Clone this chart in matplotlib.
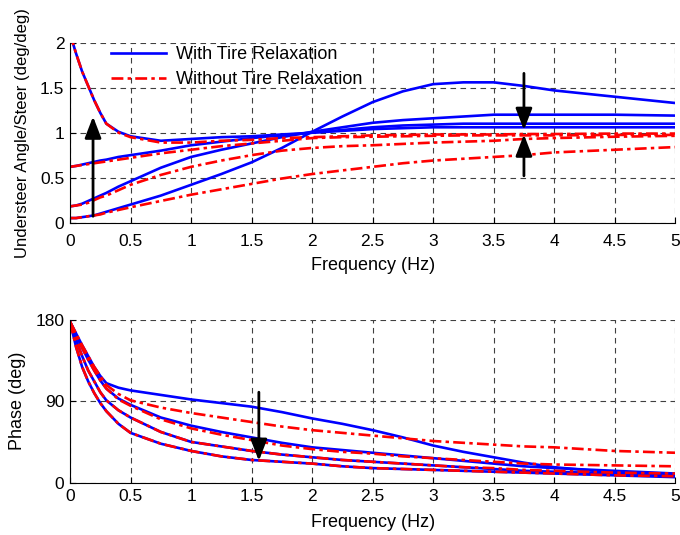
import numpy as np
import matplotlib
matplotlib.use("Agg")
import matplotlib.pyplot as plt

plt.rcParams['font.family'] = ['Liberation Sans', 'DejaVu Sans']
plt.rcParams['font.size'] = 13

# frequency points (Hz)
freq = [0, 0.05, 0.1, 0.15, 0.2, 0.25, 0.3, 0.4, 0.5, 0.75, 1.0, 1.25, 1.5, 1.75,
        2.0, 2.25, 2.5, 2.75, 3.0, 3.25, 3.5, 3.75, 4.0, 4.5, 5.0]

# understeer angle / steer, with tire relaxation
mag_with = [
    [2.1, 1.88, 1.68, 1.52, 1.36, 1.22, 1.10, 1.01, 0.96, 0.91, 0.93, 0.95, 0.96, 0.98,
     1.0, 1.02, 1.04, 1.05, 1.06, 1.06, 1.06, 1.06, 1.06, 1.06, 1.06],
    [0.62, 0.63, 0.645, 0.66, 0.675, 0.69, 0.70, 0.73, 0.75, 0.80, 0.86, 0.90, 0.94, 0.97,
     1.0, 1.03, 1.06, 1.08, 1.09, 1.10, 1.10, 1.10, 1.10, 1.10, 1.10],
    [0.18, 0.19, 0.21, 0.24, 0.27, 0.30, 0.33, 0.40, 0.46, 0.61, 0.73, 0.81, 0.88, 0.95,
     1.01, 1.06, 1.11, 1.14, 1.16, 1.18, 1.20, 1.20, 1.20, 1.20, 1.19],
    [0.05, 0.05, 0.06, 0.07, 0.08, 0.10, 0.12, 0.16, 0.20, 0.30, 0.42, 0.54, 0.67, 0.83,
     1.01, 1.18, 1.34, 1.46, 1.54, 1.56, 1.56, 1.52, 1.47, 1.40, 1.33],
]
# understeer angle / steer, without tire relaxation
mag_without = [
    [2.1, 1.88, 1.68, 1.52, 1.36, 1.22, 1.10, 1.00, 0.95, 0.89, 0.89, 0.91, 0.92, 0.94,
     0.95, 0.96, 0.97, 0.975, 0.98, 0.98, 0.98, 0.985, 0.985, 0.99, 0.99],
    [0.62, 0.63, 0.64, 0.65, 0.66, 0.67, 0.68, 0.70, 0.72, 0.77, 0.81, 0.85, 0.88, 0.91,
     0.94, 0.95, 0.955, 0.96, 0.965, 0.97, 0.97, 0.97, 0.97, 0.975, 0.975],
    [0.18, 0.19, 0.20, 0.22, 0.25, 0.28, 0.30, 0.36, 0.42, 0.53, 0.62, 0.69, 0.75, 0.80,
     0.83, 0.85, 0.86, 0.875, 0.89, 0.90, 0.91, 0.93, 0.94, 0.955, 0.965],
    [0.05, 0.05, 0.06, 0.07, 0.08, 0.09, 0.11, 0.14, 0.17, 0.24, 0.31, 0.37, 0.43, 0.49,
     0.54, 0.58, 0.62, 0.66, 0.69, 0.71, 0.73, 0.75, 0.78, 0.81, 0.84],
]

# phase (deg)
phase_with = [
    [178, 165, 152, 140, 128, 118, 110, 105, 102, 97, 92, 88, 84, 78,
     71, 65, 58, 50, 41, 34, 28, 22, 17, 11, 7],
    [178, 163, 149, 136, 124, 113, 104, 93, 86, 72, 63, 56, 50, 44,
     39, 36, 33, 30, 27, 24, 21, 18, 16, 13, 10],
    [178, 158, 140, 124, 112, 100, 91, 80, 72, 56, 45, 40, 35, 31,
     28, 25, 23, 21, 19, 17, 15, 13, 12, 10, 8],
    [178, 150, 128, 112, 99, 88, 79, 65, 55, 43, 35, 29, 25, 23,
     21, 18, 16, 15, 14, 13, 12, 11, 10, 8, 6],
]
phase_without = [
    [178, 165, 152, 140, 128, 118, 108, 98, 91, 83, 77, 72, 67, 62,
     58, 55, 52, 49, 46, 44, 42, 40, 39, 35, 33],
    [178, 163, 149, 136, 124, 113, 104, 92, 85, 70, 60, 53, 47, 41,
     37, 34, 32, 29, 27, 25, 23, 21, 20, 19, 18],
    [178, 158, 140, 124, 112, 100, 91, 80, 72, 56, 45, 40, 35, 31,
     28, 25, 23, 21, 19, 17, 16, 14, 13, 11, 10],
    [178, 150, 128, 112, 99, 88, 79, 65, 55, 43, 35, 29, 25, 23,
     21, 18, 16, 15, 14, 13, 12, 11, 10, 8, 7],
]

blue = '#0000FF'
red = '#FF0000'
dashdot = (0, (4.5, 1.6, 1.3, 1.6))
lw = 1.9

fig = plt.figure(figsize=(6.8, 5.35), dpi=100)
ax1 = fig.add_axes([0.103, 0.584, 0.890, 0.336])
ax2 = fig.add_axes([0.103, 0.098, 0.890, 0.304])

for ax in (ax1, ax2):
    ax.spines['top'].set_visible(False)
    ax.spines['right'].set_visible(False)
    ax.spines['left'].set_linewidth(0.8)
    ax.spines['bottom'].set_linewidth(0.8)
    ax.tick_params(direction='in', length=4, width=0.8, labelsize=12.5)
    ax.tick_params(axis='y', pad=4)
    ax.grid(True, color='#404040', linestyle=(0, (5, 4)), linewidth=0.8)
    ax.set_axisbelow(True)
    ax.set_xlim(0, 5)
    ax.set_xticks(np.arange(0, 5.01, 0.5))
    ax.set_xticklabels(['0', '0.5', '1', '1.5', '2', '2.5', '3', '3.5', '4', '4.5', '5'])

ax1.tick_params(axis='x', pad=8)
ax2.tick_params(axis='x', pad=4.5)
ax1.set_xlabel('Frequency (Hz)', labelpad=6, fontsize=13)
ax2.set_xlabel('Frequency (Hz)', labelpad=7.5, fontsize=13)

# top: magnitude
for i, y in enumerate(mag_with):
    ax1.plot(freq, y, color=blue, lw=lw, label='With Tire Relaxation' if i == 0 else None)
for i, y in enumerate(mag_without):
    ax1.plot(freq, y, color=red, lw=lw, linestyle=dashdot,
             label='Without Tire Relaxation' if i == 0 else None)
ax1.set_ylim(0, 2)
ax1.set_yticks([0, 0.5, 1, 1.5, 2])
ax1.set_yticklabels(['0', '0.5', '1', '1.5', '2'])
ax1.set_ylabel('Understeer Angle/Steer (deg/deg)', labelpad=7, fontsize=12)
ax1.legend(loc='upper left', bbox_to_anchor=(0.053, 1.033), frameon=False, borderpad=0,
           handlelength=3.05, handletextpad=0.55, labelspacing=0.45, fontsize=13)

arrow = dict(arrowstyle='-|>,head_length=0.65,head_width=0.25', color='k', lw=2,
             shrinkA=0, shrinkB=0, mutation_scale=20)
ax1.annotate('', xy=(0.19, 1.18), xytext=(0.19, 0.07), arrowprops=arrow)
ax1.annotate('', xy=(3.75, 1.03), xytext=(3.75, 1.66), arrowprops=arrow)
ax1.annotate('', xy=(3.75, 0.98), xytext=(3.75, 0.52), arrowprops=arrow)

# bottom: phase
for y in phase_with:
    ax2.plot(freq, y, color=blue, lw=lw)
for y in phase_without:
    ax2.plot(freq, y, color=red, lw=lw, linestyle=dashdot)
ax2.set_ylim(0, 180)
ax2.set_yticks([0, 90, 180])
ax2.set_ylabel('Phase (deg)', labelpad=7, fontsize=13)
ax2.annotate('', xy=(1.56, 24), xytext=(1.56, 100), arrowprops=arrow)

fig.savefig('out.png', dpi=100)
